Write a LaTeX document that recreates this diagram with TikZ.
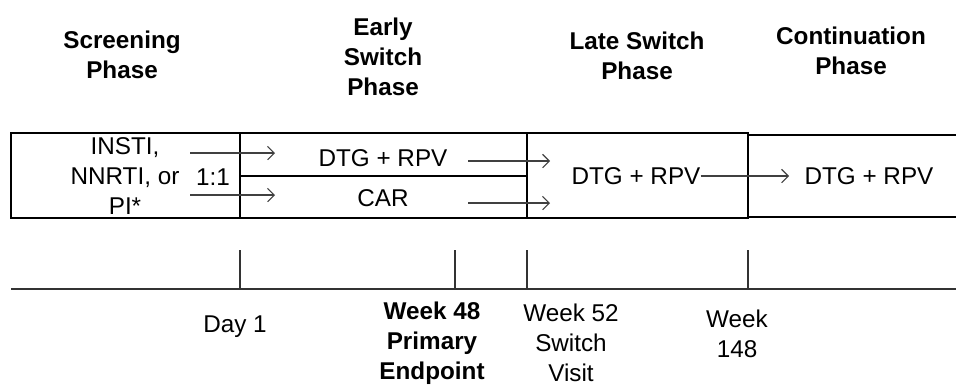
\documentclass[tikz,border=0pt]{standalone}
\usepackage{fontspec}
\setmainfont{Liberation Sans}
\usetikzlibrary{arrows.meta}
\begin{document}
\begin{tikzpicture}[x=0.75pt, y=-0.75pt,
  phasetxt/.style={font=\fontsize{18.2}{22.5}\selectfont, align=center, inner sep=0pt},
  phasehead/.style={phasetxt, font=\fontsize{18.2}{22.5}\selectfont\bfseries},
  frame/.style={draw=black, line width=0.9pt},
  flow/.style={draw=black!75, line width=0.8pt, -{Straight Barb[length=5pt,width=10pt]}},
  axis/.style={draw=black!80, line width=0.8pt}]
\providecommand{\studyArm}{DTG + RPV}
\useasboundingbox (0,0) rectangle (956,387);
% Phase headings
\node[phasehead] (hscr)  at (122,55) {Screening\\Phase};
\node[phasehead] (hearly) at (383,57) {Early\\Switch\\Phase};
\node[phasehead] (hlate) at (637,56) {Late Switch\\Phase};
\node[phasehead] (hcont) at (851,51) {Continuation\\Phase};
% Boxes of the study phases
\draw[frame] (11,133) rectangle (240,218);
\draw[frame] (240,133) rectangle (527,218);
\draw[frame] (240,176) -- (527,176);
\draw[frame] (527,133) rectangle (748,218);
\draw[frame] (956,135) -- (748,135) -- (748,217) -- (956,217);
% Texts in the boxes
\node[phasetxt] (prior) at (125,176) {INSTI,\\NNRTI, or\\PI*};
\node[phasetxt] (ratio) at (213,177) {1:1};
\node[phasetxt] (armA) at (383,158) {\studyArm};
\node[phasetxt] (armB) at (383,198) {CAR};
\node[phasetxt] (late) at (636,176) {\studyArm};
\node[phasetxt] (cont) at (869,176) {\studyArm};
% Arrows
\coordinate (rA0) at (190,153); \coordinate (rA1) at (275,153);
\coordinate (rB0) at (190,195); \coordinate (rB1) at (275,195);
\coordinate (sA0) at (468,161); \coordinate (sA1) at (550,161);
\coordinate (sB0) at (468,203); \coordinate (sB1) at (550,203);
\coordinate (cIn) at (789,176);
\draw[flow] (rA0) -- (rA1);
\draw[flow] (rB0) -- (rB1);
\draw[flow] (sA0) -- (sA1);
\draw[flow] (sB0) -- (sB1);
\draw[flow] (late.east) -- (cIn);
% Time line
\draw[axis] (11,289) -- (956,289);
\foreach \x in {240,455,527,748}
  \draw[axis] (\x,250) -- (\x,289);
\node[phasetxt] (tday) at (235,327) {Day 1};
\node[phasehead] (tw48) at (432,343) {Week 48\\Primary\\Endpoint};
\node[phasetxt] (tw52) at (571,343) {Week 52\\Switch\\Visit};
\node[phasetxt] (tw148) at (737,334) {Week\\148};
\end{tikzpicture}
\end{document}
